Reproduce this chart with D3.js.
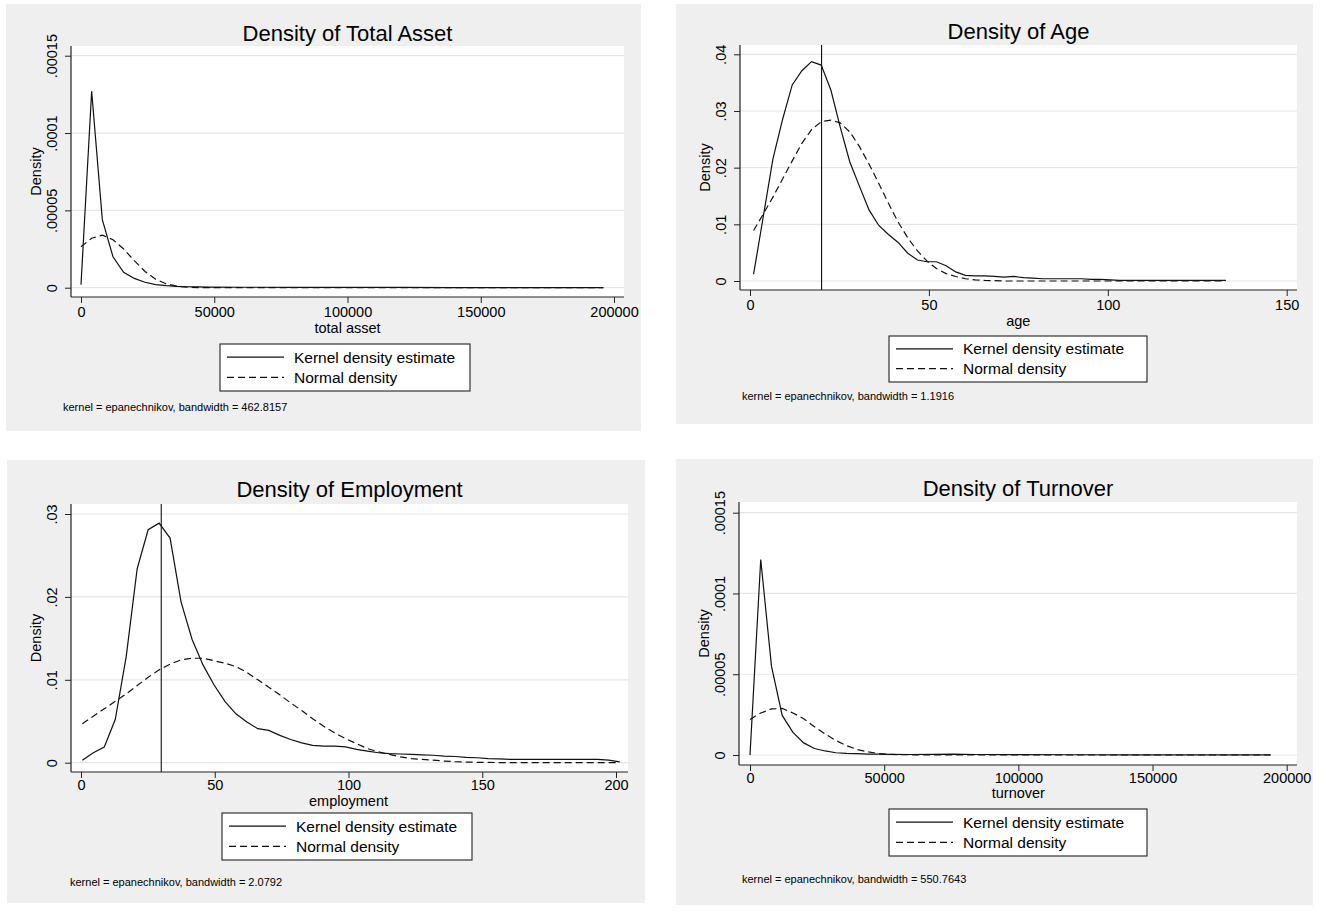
<!DOCTYPE html>
<html>
<head>
<meta charset="utf-8">
<script src="https://cdn.jsdelivr.net/npm/d3@7"></script>
<style>
body { margin: 0; background: #fff; }
svg { font-family: "Liberation Sans", Arial, Helvetica, sans-serif; }
</style>
</head>
<body>
<script>
/*global d3*/
(function () {
    "use strict";

    // total asset
    var taX = [0, 4000, 8000, 12000, 16000, 20000, 24000, 28000, 32000, 36000, 40000, 44000, 48000, 60000, 80000, 100000, 120000, 140000, 160000, 180000, 196000];
    var taKde = [0.000002, 0.000127, 0.000044, 0.000020, 0.000010, 0.000006, 0.0000035, 0.000002, 0.0000013, 0.0000008, 0.0000006, 0.0000005, 0.0000004, 0.0000003, 0.00000025, 0.0000002, 0.00000015, 0.0000001, 0.0000001, 0.0000001, 0.0000001];
    var taNorm = [0.0000265, 0.000032, 0.000034, 0.000031, 0.000025, 0.0000175, 0.0000105, 0.0000055, 0.0000025, 0.000001, 0.0000003, 0.0000001, 0, 0, 0, 0, 0, 0, 0, 0, 0];

    // age
    var ageX = [1, 3.7, 6.4, 9.1, 11.8, 14.5, 17.2, 19.9, 22.6, 25.2, 27.9, 30.6, 33.3, 36.0, 38.7, 41.4, 44.1, 46.8, 49.5, 52.1,
        54.8, 57.5, 60.2, 62.9, 65.6, 68.3, 71.0, 73.7, 76.4, 79.1, 81.8, 84.5, 87.2, 89.9, 92.6, 95.3, 98.0, 100.7, 103.4, 106.1,
        108.8, 111.5, 114.1, 116.8, 119.5, 122.2, 124.9, 127.6, 130.3, 133.0];
    var ageKde = [0.0012, 0.0113, 0.0215, 0.0285, 0.0346, 0.0371, 0.0387, 0.0381, 0.0337, 0.0272, 0.0210, 0.0167, 0.0125, 0.0098, 0.0082, 0.0068, 0.0049, 0.0037, 0.0034, 0.0034,
        0.0027, 0.0016, 0.0010, 0.0009, 0.0009, 0.0008, 0.0007, 0.0008, 0.0006, 0.0005, 0.0004, 0.0004, 0.0004, 0.0004, 0.0004, 0.0003, 0.0003, 0.0002, 0.0001, 0.0001,
        0.0001, 0.0001, 0.0001, 0.0001, 0.0001, 0.0001, 0.0001, 0.0001, 0.0001, 0.0001];
    var ageNorm = [0.0089, 0.0118, 0.0148, 0.0180, 0.0212, 0.0243, 0.0267, 0.0281, 0.0284, 0.0279, 0.0263, 0.0237, 0.0206, 0.0172, 0.0137, 0.0104, 0.0076, 0.0053, 0.0035, 0.0022,
        0.0013, 0.0008, 0.0004, 0.0002, 0.0001, 0.00005, 0, 0, 0, 0, 0, 0, 0, 0, 0, 0, 0, 0, 0, 0,
        0, 0, 0, 0, 0, 0, 0, 0, 0, 0];

    // employment
    var empX = [0.5, 4.6, 8.7, 12.8, 16.9, 21.0, 25.1, 29.2, 33.3, 37.4, 41.5, 45.6, 49.7, 53.8, 57.9, 62.0, 66.1, 70.2, 74.3, 78.4,
        82.5, 86.6, 90.7, 94.8, 98.9, 103.0, 107.1, 111.2, 115.3, 119.4, 123.5, 127.6, 131.7, 135.8, 139.9, 144.0, 148.1, 152.2, 156.3, 160.4,
        164.5, 168.6, 172.7, 176.8, 180.9, 185.0, 189.1, 193.2, 197.3, 201.4];
    var empKde = [0.0003, 0.0012, 0.0019, 0.0052, 0.0128, 0.0234, 0.0281, 0.0289, 0.0271, 0.0194, 0.0149, 0.0118, 0.0094, 0.0074, 0.0059, 0.0049, 0.0041, 0.0039, 0.0033, 0.0028,
        0.0024, 0.0021, 0.0020, 0.0020, 0.0019, 0.0016, 0.0014, 0.0012, 0.0011, 0.00105, 0.0010, 0.00095, 0.0009, 0.0008, 0.00075, 0.00065, 0.0006, 0.0005, 0.00045, 0.0004,
        0.0004, 0.0004, 0.0004, 0.0004, 0.0004, 0.0004, 0.0004, 0.0004, 0.0003, 0.0001];
    var empNorm = [0.0047, 0.0056, 0.0065, 0.0074, 0.0083, 0.0093, 0.0103, 0.0112, 0.0119, 0.0124, 0.0126, 0.0126, 0.0123, 0.0120, 0.0116, 0.0109, 0.0100, 0.0091, 0.0082, 0.0072,
        0.0063, 0.0053, 0.0044, 0.0036, 0.0029, 0.0023, 0.0017, 0.0013, 0.0010, 0.0007, 0.0005, 0.0004, 0.0003, 0.0002, 0.00012, 0.00008, 0.00005, 0.00003, 0.00002, 0.00001,
        0, 0, 0, 0, 0, 0, 0, 0, 0, 0];

    // turnover
    var toX = [0, 4000, 8000, 12000, 16000, 20000, 24000, 28000, 32000, 36000, 40000, 44000, 48000, 52000, 60000, 68000, 76000, 84000, 100000, 120000, 140000, 160000, 180000, 194000];
    var toKde = [0, 0.000121, 0.000055, 0.0000245, 0.000014, 0.0000075, 0.000004, 0.0000025, 0.0000014, 0.000001, 0.0000008, 0.0000006, 0.0000005, 0.0000004, 0.0000003, 0.0000004, 0.0000006, 0.0000003, 0.0000002, 0.00000015, 0.0000001, 0.0000001, 0.0000001, 0.0000001];
    var toNorm = [0.000022, 0.000026, 0.0000285, 0.0000288, 0.000026, 0.0000225, 0.0000175, 0.000013, 0.000009, 0.0000058, 0.0000034, 0.0000019, 0.0000009, 0.0000004, 0.0000001, 0, 0, 0, 0, 0, 0, 0, 0, 0];

    // ticks
    var moneyTicks = [0, 50000, 100000, 150000, 200000];
    var moneyYTicks = [0, 0.00005, 0.0001, 0.00015];
    var moneyYLabels = ["0", ".00005", ".0001", ".00015"];
    var ageTicks = [0, 50, 100, 150];
    var ageYTicks = [0, 0.01, 0.02, 0.03, 0.04];
    var ageYLabels = ["0", ".01", ".02", ".03", ".04"];
    var empTicks = [0, 50, 100, 150, 200];
    var empYTicks = [0, 0.01, 0.02, 0.03];
    var empYLabels = ["0", ".01", ".02", ".03"];

    var legendLabels = ["Kernel density estimate", "Normal density"];

    var panels = [
        {title: "Density of Total Asset", xTitle: "total asset", note: "kernel = epanechnikov, bandwidth = 462.8157",
            xs: taX, kde: taKde, norm: taNorm, xTicks: moneyTicks, yTicks: moneyYTicks, yLabels: moneyYLabels, xline: null,
            xDomain: [0, 200000], yDomain: [0, 0.00015],
            box: [6, 4, 635, 427], plot: [71, 46, 624, 297], xr: [81, 614], yr: [287.7, 55.7],
            titleY: 41, xLabY: 20, xTitleY: 36, legend: [220, 344, 250, 47], noteX: 63, noteY: 411},
        {title: "Density of Age", xTitle: "age", note: "kernel = epanechnikov, bandwidth = 1.1916",
            xs: ageX, kde: ageKde, norm: ageNorm, xTicks: ageTicks, yTicks: ageYTicks, yLabels: ageYLabels, xline: 20,
            xDomain: [0, 150], yDomain: [0, 0.04],
            box: [676, 4, 637, 420], plot: [740, 45, 1297, 290], xr: [750, 1286.7], yr: [281, 54.3],
            titleY: 39, xLabY: 20, xTitleY: 36, legend: [889, 336, 258, 46], noteX: 742, noteY: 400},
        {title: "Density of Employment", xTitle: "employment", note: "kernel = epanechnikov, bandwidth = 2.0792",
            xs: empX, kde: empKde, norm: empNorm, xTicks: empTicks, yTicks: empYTicks, yLabels: empYLabels, xline: 30,
            xDomain: [0, 200], yDomain: [0, 0.03],
            box: [7, 460, 638, 443], plot: [71, 504, 628, 772], xr: [81, 616], yr: [762.7, 514],
            titleY: 497, xLabY: 18, xTitleY: 34, legend: [222, 813, 250, 47], noteX: 70, noteY: 886},
        {title: "Density of Turnover", xTitle: "turnover", note: "kernel = epanechnikov, bandwidth = 550.7643",
            xs: toX, kde: toKde, norm: toNorm, xTicks: moneyTicks, yTicks: moneyYTicks, yLabels: moneyYLabels, xline: null,
            xDomain: [0, 200000], yDomain: [0, 0.00015],
            box: [676, 459, 637, 446], plot: [739, 502, 1297, 765], xr: [750, 1286.7], yr: [755, 512.7],
            titleY: 496, xLabY: 18, xTitleY: 33, legend: [889, 809, 258, 47], noteX: 742, noteY: 883}
    ];

    var svg = d3.select("body").append("svg")
        .attr("width", 1326)
        .attr("height", 913);

    panels.forEach(function (p) {
        var g = svg.append("g"),
            x = d3.scaleLinear().domain(p.xDomain).range(p.xr),
            y = d3.scaleLinear().domain(p.yDomain).range(p.yr),
            pts = p.xs.map(function (v, i) { return {x: v, k: p.kde[i], n: p.norm[i]}; });

        g.append("rect")
            .attr("x", p.box[0]).attr("y", p.box[1])
            .attr("width", p.box[2]).attr("height", p.box[3])
            .attr("fill", "#efefef");
        g.append("rect")
            .attr("x", p.plot[0]).attr("y", p.plot[1])
            .attr("width", p.plot[2] - p.plot[0]).attr("height", p.plot[3] - p.plot[1])
            .attr("fill", "#fff");

        // gridlines
        g.append("g").selectAll("line")
            .data(p.yTicks)
            .enter().append("line")
            .attr("x1", p.plot[0]).attr("x2", p.plot[2])
            .attr("y1", function (d) { return y(d); })
            .attr("y2", function (d) { return y(d); })
            .attr("stroke", "#e6e6e6")
            .attr("stroke-width", 1.2);

        // vertical reference line
        if (p.xline !== null) {
            g.append("line")
                .attr("x1", x(p.xline)).attr("x2", x(p.xline))
                .attr("y1", p.plot[1]).attr("y2", p.plot[3])
                .attr("stroke", "#111").attr("stroke-width", 1.1);
        }

        var kdeLine = d3.line().x(function (d) { return x(d.x); }).y(function (d) { return y(d.k); }),
            normLine = d3.line().x(function (d) { return x(d.x); }).y(function (d) { return y(d.n); });

        g.append("path").datum(pts)
            .attr("d", normLine)
            .attr("fill", "none").attr("stroke", "#111")
            .attr("stroke-width", 1.2).attr("stroke-dasharray", "7,4");
        g.append("path").datum(pts)
            .attr("d", kdeLine)
            .attr("fill", "none").attr("stroke", "#111")
            .attr("stroke-width", 1.2);

        // axes
        var xa = g.append("g")
            .attr("transform", "translate(0," + p.plot[3] + ")")
            .call(d3.axisBottom(x).tickValues(p.xTicks).tickFormat(d3.format("d")).tickSize(6));
        xa.select(".domain").remove();
        xa.attr("font-family", null).attr("font-size", null).attr("color", "#222");
        xa.selectAll("text")
            .attr("y", p.xLabY).attr("dy", null)
            .attr("font-size", 14.5).attr("fill", "#000");

        var ya = g.append("g")
            .attr("transform", "translate(" + p.plot[0] + ",0)")
            .call(d3.axisLeft(y).tickValues(p.yTicks).tickFormat(function (d, i) { return p.yLabels[i]; }).tickSize(6));
        ya.select(".domain").remove();
        ya.attr("font-family", null).attr("font-size", null).attr("color", "#222");
        ya.selectAll("text")
            .attr("transform", "rotate(-90)")
            .attr("x", 0).attr("y", -14).attr("dy", null)
            .attr("text-anchor", "middle")
            .attr("font-size", 14.5).attr("fill", "#000");

        g.append("line")
            .attr("x1", p.plot[0]).attr("x2", p.plot[2])
            .attr("y1", p.plot[3]).attr("y2", p.plot[3])
            .attr("stroke", "#222").attr("stroke-width", 1.2);
        g.append("line")
            .attr("x1", p.plot[0]).attr("x2", p.plot[0])
            .attr("y1", p.plot[1]).attr("y2", p.plot[3])
            .attr("stroke", "#222").attr("stroke-width", 1.2);

        // titles
        g.append("text")
            .attr("x", (p.plot[0] + p.plot[2]) / 2).attr("y", p.titleY)
            .attr("text-anchor", "middle").attr("font-size", 22)
            .text(p.title);
        g.append("text")
            .attr("x", (p.xr[0] + p.xr[1]) / 2).attr("y", p.plot[3] + p.xTitleY)
            .attr("text-anchor", "middle").attr("font-size", 14.5)
            .text(p.xTitle);
        g.append("text")
            .attr("transform", "translate(" + (p.plot[0] - 30) + "," + ((p.plot[1] + p.plot[3]) / 2) + ") rotate(-90)")
            .attr("text-anchor", "middle").attr("font-size", 14.5)
            .text("Density");

        // legend
        var lg = g.append("g").attr("transform", "translate(" + p.legend[0] + "," + p.legend[1] + ")");
        lg.append("rect")
            .attr("width", p.legend[2]).attr("height", p.legend[3])
            .attr("fill", "#fff").attr("stroke", "#222").attr("stroke-width", 1.1);
        lg.selectAll(".entry")
            .data(legendLabels)
            .enter().append("g")
            .attr("class", "entry")
            .attr("transform", function (d, i) { return "translate(0," + (p.legend[3] * (i === 0 ? 0.28 : 0.71)) + ")"; })
            .each(function (d, i) {
                var e = d3.select(this);
                e.append("line")
                    .attr("x1", 7).attr("x2", 64).attr("y1", 0).attr("y2", 0)
                    .attr("stroke", "#111").attr("stroke-width", 1.2)
                    .attr("stroke-dasharray", i === 0 ? null : "7,4");
                e.append("text")
                    .attr("x", 74).attr("y", 5.5)
                    .attr("font-size", 15.5)
                    .text(d);
            });

        g.append("text")
            .attr("x", p.noteX).attr("y", p.noteY)
            .attr("font-size", 11)
            .text(p.note);
    });
}());
</script>
</body>
</html>
